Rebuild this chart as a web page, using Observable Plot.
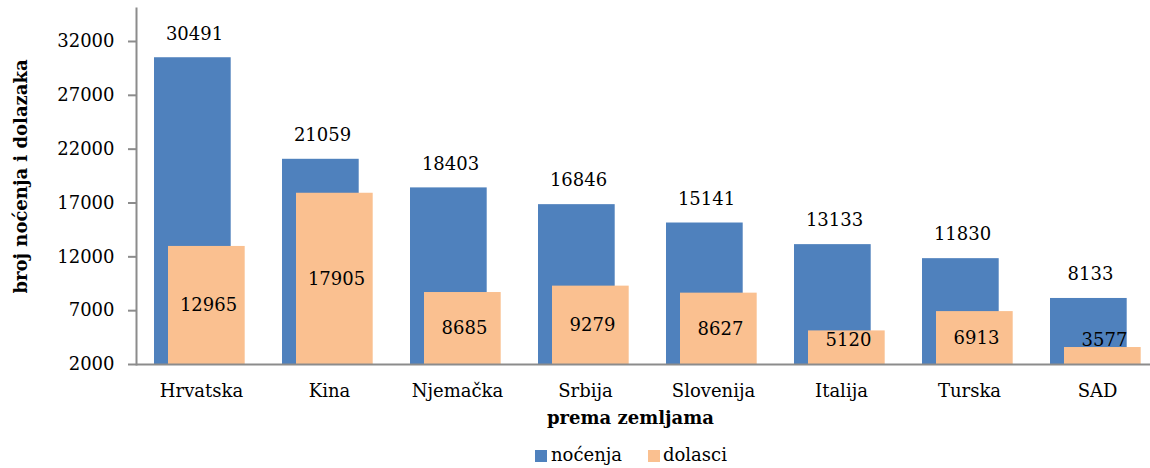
<!DOCTYPE html>
<html>
<head>
<meta charset="utf-8">
<script src="https://cdn.jsdelivr.net/npm/d3@7"></script>
<script src="https://cdn.jsdelivr.net/npm/@observablehq/plot@0.6"></script>
<style>
  body { margin: 0; background: #fff; font-family: "DejaVu Serif", serif; }
  #chart { position: relative; width: 1150px; height: 468px; overflow: hidden; }
  #legend { position: absolute; top: 442px; left: 0; width: 1150px; height: 26px; font-size: 18px; color: #000; }
  .sw { position: absolute; top: 8px; width: 12px; height: 12px; }
  .lb { position: absolute; top: 1px; line-height: 24px; }
</style>
</head>
<body>
<div id="chart"></div>
<script>
const countries = ["Hrvatska", "Kina", "Njemačka", "Srbija", "Slovenija", "Italija", "Turska", "SAD"];
const nocenja = [30491, 21059, 18403, 16846, 15141, 13133, 11830, 8133];
const dolasci = [12965, 17905, 8685, 9279, 8627, 5120, 6913, 3577];
const yTicks = [2000, 7000, 12000, 17000, 22000, 27000, 32000];
const seriesNames = ["noćenja", "dolasci"];
const seriesColors = ["#4F81BD", "#FAC090"];

const base = 2000;
const rows = countries.map((c, i) => ({country: c, n: nocenja[i], d: dolasci[i]}));

const plot = Plot.plot({
  width: 1150,
  height: 442,
  marginLeft: 136,
  marginRight: -12,
  marginTop: 8,
  marginBottom: 78,
  style: {fontFamily: "DejaVu Serif", fontSize: "18px", color: "#000", background: "#fff", overflow: "visible"},
  x: {domain: countries, padding: 0},
  y: {domain: [2000, 35064]},
  marks: [
    Plot.barY(rows, {x: "country", y1: base, y2: "n", fill: seriesColors[0], insetLeft: 17, insetRight: 34.3}),
    Plot.barY(rows, {x: "country", y1: base, y2: "d", fill: seriesColors[1], insetLeft: 31, insetRight: 20.3}),
    Plot.text(rows, {x: "country", y: "n", text: d => String(d.n), dx: -7, dy: -24, fontSize: 18, fill: "#000"}),
    Plot.text(rows, {x: "country", y: d => Math.max((base + d.d) / 2, 4230), text: d => String(d.d), dx: 7, fontSize: 18, fill: "#000"}),
    Plot.frame({anchor: "left", stroke: "#8c8c8c", strokeWidth: 2}),
    Plot.ruleY([base], {stroke: "#8c8c8c", strokeWidth: 2}),
    Plot.axisY({ticks: yTicks, tickSize: 8, tickPadding: 14, tickFormat: d => String(d), stroke: "#8c8c8c", strokeWidth: 2, fontSize: 18, label: null}),
    Plot.axisX({tickSize: 0, tickPadding: 20, fontSize: 18, label: null}),
    Plot.text(["broj noćenja i dolazaka"], {frameAnchor: "left", textAnchor: "middle", dx: -115, dy: -10, rotate: -90, fontWeight: "bold", fontSize: 18, fill: "#000"}),
    Plot.text(["prema zemljama"], {frameAnchor: "bottom", dx: -19, dy: 59, fontWeight: "bold", fontSize: 18, fill: "#000"})
  ]
});

const chart = document.getElementById("chart");
chart.appendChild(plot);

const legend = document.createElement("div");
legend.id = "legend";
const pos = [[535, 551], [648, 663]];
seriesNames.forEach((name, i) => {
  const sw = document.createElement("div");
  sw.className = "sw";
  sw.style.left = pos[i][0] + "px";
  sw.style.background = seriesColors[i];
  const lb = document.createElement("div");
  lb.className = "lb";
  lb.style.left = pos[i][1] + "px";
  lb.textContent = name;
  legend.appendChild(sw);
  legend.appendChild(lb);
});
chart.appendChild(legend);
</script>
</body>
</html>
